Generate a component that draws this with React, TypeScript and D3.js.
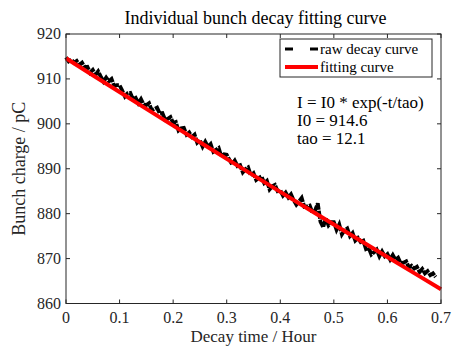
import React from "react";
import * as d3 from "d3";

const rawTimes: number[] = Array.from({ length: 139 }, (_, i) => +(i * 0.005).toFixed(3));
const rawCharge: number[] = [
  914.8, 913.9, 914.3, 913.6, 914.0, 913.1, 913.6, 912.6, 912.7, 911.4,
  912.0, 910.9, 911.7, 910.5, 909.4, 910.3, 909.5, 910.0, 908.4, 908.6,
  908.6, 907.4, 906.1, 906.8, 906.9, 905.5, 905.8, 904.6, 905.5, 904.3,
  904.2, 904.6, 903.0, 903.3, 903.6, 902.3, 902.4, 900.9, 901.1, 901.5,
  900.2, 900.4, 898.5, 899.0, 899.1, 897.6, 898.1, 897.1, 897.6, 895.8,
  896.3, 894.9, 896.0, 894.9, 895.5, 893.8, 894.2, 894.6, 892.7, 893.2,
  893.1, 892.0, 891.0, 891.8, 890.6, 890.8, 889.2, 889.9, 890.3, 888.5,
  889.0, 887.5, 888.0, 888.3, 886.8, 887.3, 885.4, 886.1, 886.4, 885.0,
  885.2, 884.0, 884.7, 883.6, 884.3, 883.0, 882.0, 882.7, 883.5, 881.5,
  881.6, 881.8, 880.2, 880.7, 882.3, 878.2, 877.0, 879.0, 877.4, 878.1,
  878.1, 876.4, 877.6, 875.4, 876.3, 876.7, 875.0, 875.7, 874.0, 874.6,
  873.7, 874.0, 872.1, 872.4, 870.9, 871.4, 872.0, 870.5, 871.6, 870.5,
  871.0, 869.8, 870.8, 869.7, 870.2, 868.9, 869.1, 869.4, 868.0, 868.4,
  867.8, 868.2, 867.0, 867.7, 866.7, 867.2, 866.3, 866.7, 865.9,
];
const fitI0 = 914.6;
const fitTau = 12.1;
const fitTimes: number[] = [0, 0.05, 0.1, 0.15, 0.2, 0.25, 0.3, 0.35, 0.4, 0.45, 0.5, 0.55, 0.6, 0.65, 0.7];
const xTicks: number[] = [0, 0.1, 0.2, 0.3, 0.4, 0.5, 0.6, 0.7];
const yTicks: number[] = [860, 870, 880, 890, 900, 910, 920];
const legendLabels: string[] = ["raw decay curve", "fitting curve"];
const annotation: string[] = ["I = I0 * exp(-t/tao)", "I0 = 914.6", "tao = 12.1"];

const W = 454, H = 346;
const L = 66, R = 441, T = 34, B = 303.5;
const FONT = '"Liberation Serif", "Times New Roman", Times, "DejaVu Serif", serif';

export default function App() {
  const x = d3.scaleLinear().domain([0, 0.7]).range([L, R]);
  const y = d3.scaleLinear().domain([860, 920]).range([B, T]);
  const rawLine = d3.line<number>().x((_, i) => x(rawTimes[i])).y((v) => y(v));
  const fitLine = d3.line<number>().x((t) => x(t)).y((t) => y(fitI0 * Math.exp(-t / fitTau)));
  const axisColor = "#262626";
  const tl = 4;
  return (
    <svg width={W} height={H} style={{ position: "absolute", left: 0, top: 0, background: "#fff", fontFamily: FONT }}>
      <rect x={0} y={0} width={W} height={H} fill="#fff" />
      <path d={rawLine(rawCharge) || ""} fill="none" stroke="#000" strokeWidth={3.8} strokeDasharray="8,1" />
      <path d={fitLine(fitTimes) || ""} fill="none" stroke="#ff0000" strokeWidth={4} />
      <rect x={L} y={T} width={R - L} height={B - T} fill="none" stroke={axisColor} strokeWidth={1} />
      {xTicks.map((t) => (
        <g key={"x" + t}>
          <line x1={x(t)} x2={x(t)} y1={B} y2={B - tl} stroke={axisColor} />
          <line x1={x(t)} x2={x(t)} y1={T} y2={T + tl} stroke={axisColor} />
          <text x={x(t)} y={B + 19} fontSize={16} textAnchor="middle" fill="#262626">{t === 0 ? "0" : String(t)}</text>
        </g>
      ))}
      {yTicks.map((v) => (
        <g key={"y" + v}>
          <line x1={L} x2={L + tl} y1={y(v)} y2={y(v)} stroke={axisColor} />
          <line x1={R} x2={R - tl} y1={y(v)} y2={y(v)} stroke={axisColor} />
          <text x={L - 5} y={y(v) + 5} fontSize={16} textAnchor="end" fill="#262626">{v}</text>
        </g>
      ))}
      <text x={(L + R) / 2 + 2} y={24} fontSize={18} textAnchor="middle" fill="#000">Individual bunch decay fitting curve</text>
      <text x={(L + R) / 2} y={342} fontSize={17} textAnchor="middle" fill="#262626">Decay time / Hour</text>
      <text transform={`translate(25,${(T + B) / 2}) rotate(-90)`} fontSize={18} textAnchor="middle" fill="#262626">Bunch charge / pC</text>
      <g>
        <rect x={280} y={39} width={152} height={38} fill="#fff" stroke={axisColor} strokeWidth={1} />
        <line x1={285} x2={293} y1={49} y2={49} stroke="#000" strokeWidth={3} />
        <line x1={310} x2={318} y1={49} y2={49} stroke="#000" strokeWidth={3} />
        <text x={320} y={54} fontSize={15} fill="#000">{legendLabels[0]}</text>
        <line x1={285} x2={318} y1={67} y2={67} stroke="#ff0000" strokeWidth={4} />
        <text x={320} y={72} fontSize={15} fill="#000">{legendLabels[1]}</text>
      </g>
      {annotation.map((s, i) => (
        <text key={s} x={297} y={108 + i * 18} fontSize={17} fill="#000">{s}</text>
      ))}
    </svg>
  );
}
